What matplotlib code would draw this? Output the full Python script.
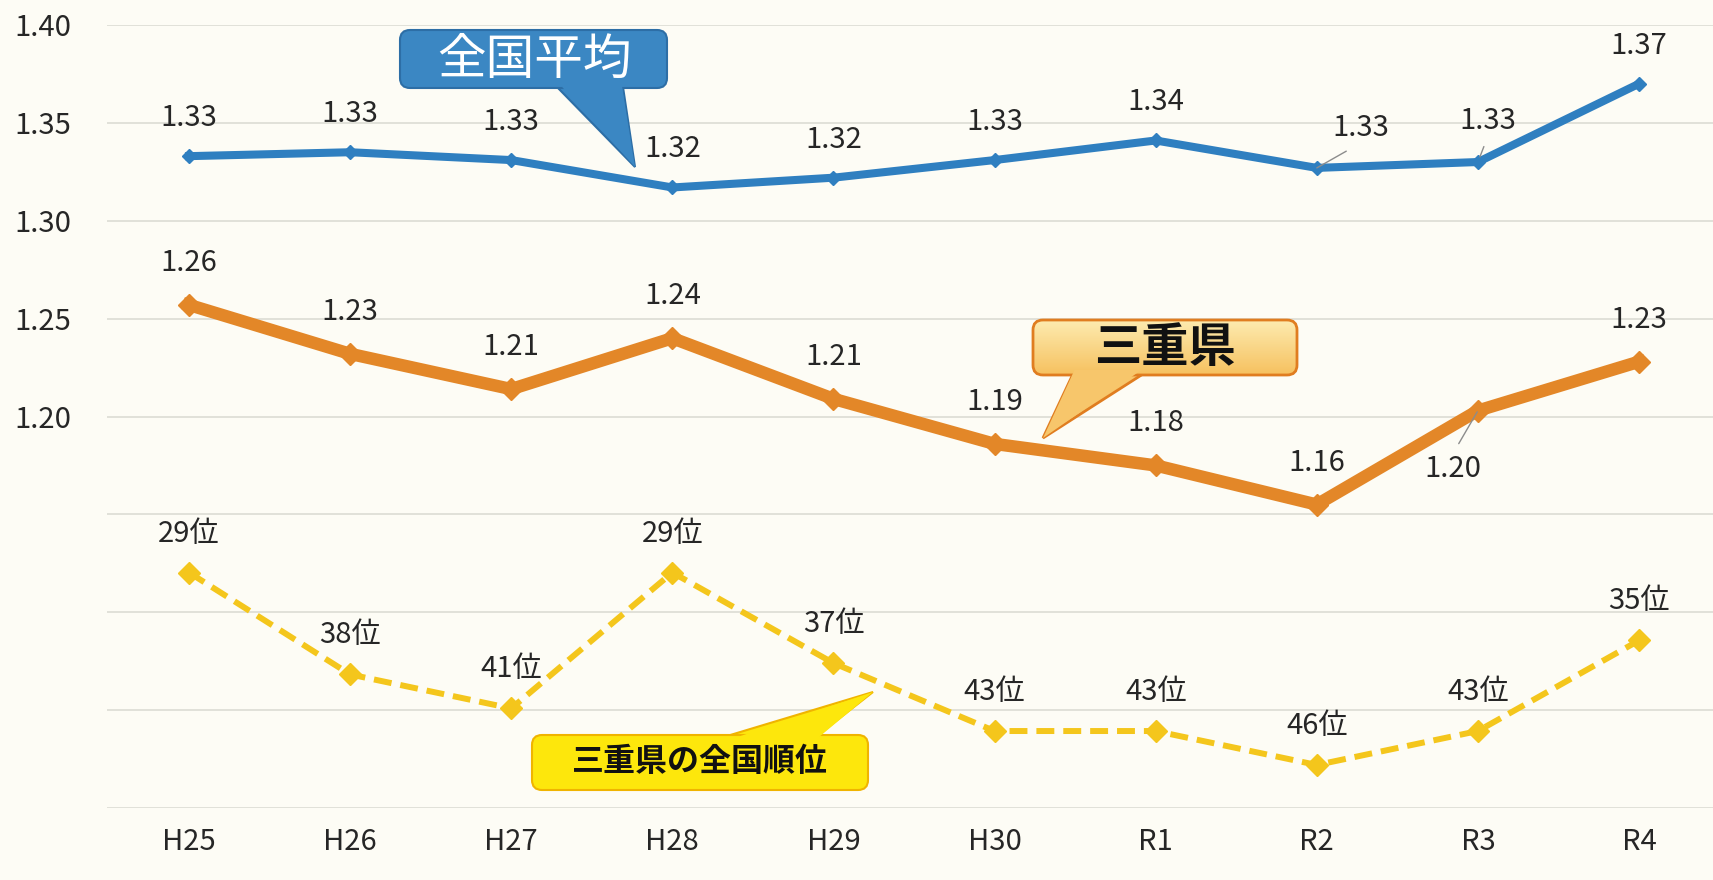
import matplotlib
matplotlib.use('Agg')
import matplotlib.pyplot as plt
from matplotlib.patches import FancyBboxPatch, Polygon
from matplotlib.colors import to_rgb
import numpy as np

# data
years = ['H25', 'H26', 'H27', 'H28', 'H29', 'H30', 'R1', 'R2', 'R3', 'R4']
national = [1.333, 1.335, 1.331, 1.317, 1.322, 1.331, 1.341, 1.327, 1.330, 1.370]
national_labels = ['1.33', '1.33', '1.33', '1.32', '1.32', '1.33', '1.34', '1.33', '1.33', '1.37']
mie = [1.257, 1.232, 1.214, 1.240, 1.209, 1.186, 1.175, 1.155, 1.203, 1.228]
mie_labels = ['1.26', '1.23', '1.21', '1.24', '1.21', '1.19', '1.18', '1.16', '1.20', '1.23']
mie_rank = [29, 38, 41, 29, 37, 43, 43, 46, 43, 35]
grid_levels = [1.00, 1.05, 1.10, 1.15, 1.20, 1.25, 1.30, 1.35, 1.40]
labelled_levels = [1.20, 1.25, 1.30, 1.35, 1.40]

W, H = 1713, 880
BG = '#fdfcf5'
BLUE = '#2f7fc0'
ORANGE = '#e38728'
YELLOW = '#f4c61c'
TXT = '#262626'
JP = ['Noto Sans CJK JP', 'DejaVu Sans']

plt.rcParams['font.family'] = JP

fig = plt.figure(figsize=(W / 100, H / 100), dpi=100, facecolor=BG)
ax = fig.add_axes([107 / W, 72 / H, (W - 107) / W, 783 / H])
ax.set_facecolor(BG)
x = np.arange(len(years))

ax.set_xlim(-0.509, 9.459)
ax.set_ylim(1.00, 1.40)
ax.set_yticks(grid_levels)
ax.set_yticklabels([f'{v:.2f}' if any(abs(v - l) < 1e-9 for l in labelled_levels) else ''
                    for v in grid_levels])
ax.set_xticks(x)
ax.set_xticklabels(years)
ax.tick_params(axis='y', length=0, pad=26, labelsize=21, labelcolor=TXT)
ax.tick_params(axis='x', length=0, pad=14, labelsize=21, labelcolor=TXT)
for s in ax.spines.values():
    s.set_visible(False)
ax.yaxis.grid(True, color='#d9d9d1', lw=1.1)
ax.set_axisbelow(True)

# rank series uses its own (inverted) scale
ax2 = ax.twinx()
ax2.set_ylim(49.80, -19.37)
ax2.axis('off')

ax.plot(x, national, color=BLUE, lw=5.8, marker='D', ms=7.5, zorder=3)
ax.plot(x, mie, color=ORANGE, lw=9, marker='D', ms=11, zorder=3)
ax2.plot(x, mie_rank, color=YELLOW, lw=4.3, ls=(0, (3.0, 1.5)), dash_capstyle='butt',
         marker='D', ms=11, zorder=3)

# national labels
nat_off = [(0, 38)] * 10
nat_off[7] = (44, 40)
nat_off[8] = (10, 41)
for i, (v, lbl) in enumerate(zip(national, national_labels)):
    kw = {}
    if i == 7:
        kw['arrowprops'] = dict(arrowstyle='-', color='#8c8c8c', lw=1, relpos=(0.5, 0),
                                shrinkA=8, shrinkB=0)
    if i == 8:
        kw['arrowprops'] = dict(arrowstyle='-', color='#8c8c8c', lw=1, relpos=(0.5, 0),
                                shrinkA=6, shrinkB=4)
    ax.annotate(lbl, (x[i], v), xytext=nat_off[i], textcoords='offset pixels',
                ha='center', va='center', fontsize=21, color=TXT, zorder=4, **kw)

# Mie labels
for i, (v, lbl) in enumerate(zip(mie, mie_labels)):
    if i == 8:
        ax.annotate(lbl, (x[i], v), xytext=(-25, -58), textcoords='offset pixels',
                    ha='center', va='center', fontsize=21, color=TXT, zorder=4,
                    arrowprops=dict(arrowstyle='-', color='#8c8c8c', lw=1, relpos=(0.5, 1),
                                    shrinkA=6, shrinkB=1))
    else:
        ax.annotate(lbl, (x[i], v), xytext=(0, 42), textcoords='offset pixels',
                    ha='center', va='center', fontsize=21, color=TXT, zorder=4)

# rank labels
for i, r in enumerate(mie_rank):
    ax2.annotate(f'{r}位', (x[i], r), xytext=(0, 39), textcoords='offset pixels',
                 ha='center', va='center', fontsize=21, color=TXT, zorder=4)

# callouts drawn on a pixel overlay
ov = fig.add_axes([0, 0, 1, 1])
ov.axis('off')
ov.set_autoscale_on(False)
ov.set_xlim(0, W)
ov.set_ylim(H, 0)


def callout(box, tail, face, edge, lw=1.5, radius=10, grad=None):
    x0, y0, x1, y1 = box
    ov.add_patch(Polygon(tail, closed=True, fc=face, ec=edge, lw=lw, zorder=2))
    bp = FancyBboxPatch((x0, y0), x1 - x0, y1 - y0,
                        boxstyle=f'round,pad=0,rounding_size={radius}',
                        fc=face, ec='none', zorder=3)
    ov.add_patch(bp)
    if grad is not None:
        c0, c1 = np.array(to_rgb(grad[0])), np.array(to_rgb(grad[1]))
        t = np.linspace(0, 1, 64)[:, None, None]
        img = c0 * (1 - t) + c1 * t
        im = ov.imshow(img, extent=(x0, x1, y1, y0), origin='upper', aspect='auto', zorder=3.5)
        im.set_clip_path(bp)
    ov.add_patch(FancyBboxPatch((x0, y0), x1 - x0, y1 - y0,
                                boxstyle=f'round,pad=0,rounding_size={radius}',
                                fc='none', ec=edge, lw=lw, zorder=4))
    # cover the box edge where the tail joins
    (ax_, ay_), (bx_, by_), tip = tail
    d = -4 if tip[1] > ay_ else 4
    inner = [(ax_ + 1.5, ay_ + d), (bx_ - 1.5, by_ + d), tip]
    ov.add_patch(Polygon(inner, closed=True, fc=face, ec='none', zorder=5))


callout((400, 30, 667, 88), [(557, 87), (623, 87), (635, 167)], '#3b87c3', '#2d6ea6',
        lw=1.5, radius=10)
ov.text(534, 60, '全国平均', ha='center', va='center', fontsize=35, color='white',
        fontweight='normal', zorder=6)

callout((1033, 320, 1297, 375), [(1073, 374), (1143, 374), (1043, 438)], '#f7c66b', '#e07d20',
        lw=2, radius=10, grad=('#fdebb0', '#f6c15f'))
ov.text(1165, 348, '三重県', ha='center', va='center', fontsize=34, color='#111111',
        fontweight='bold', zorder=6)

callout((532, 735, 868, 790), [(727, 736), (817, 736), (873, 692)], '#fde70c', '#f0b400',
        lw=1.5, radius=10)
ov.text(700, 762, '三重県の全国順位', ha='center', va='center', fontsize=23, color='#111111',
        fontweight='bold', zorder=6)

fig.savefig('out.png', dpi=100, facecolor=BG)
